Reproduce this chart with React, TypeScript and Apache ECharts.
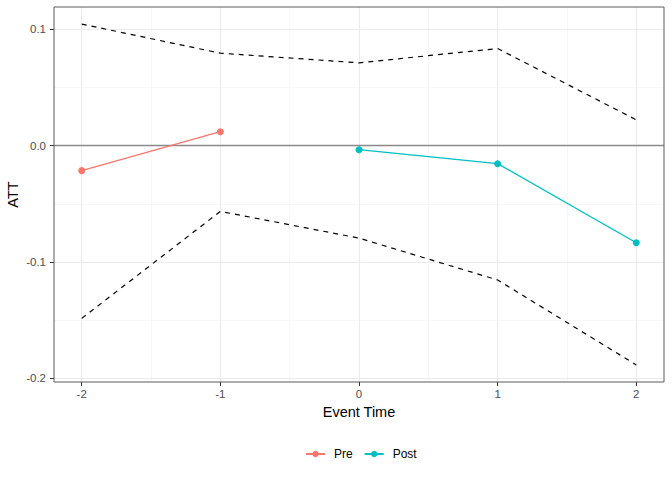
import React, { useEffect, useRef } from "react";
import * as echarts from "echarts";

const eventTime = [-2, -1, 0, 1, 2];
const preTime = [-2, -1];
const preAtt = [-0.0215, 0.012];
const postTime = [0, 1, 2];
const postAtt = [-0.0035, -0.0155, -0.0835];
const upperBand = [0.1045, 0.0795, 0.0712, 0.0835, 0.0222];
const lowerBand = [-0.1485, -0.0565, -0.0795, -0.1155, -0.1885];

const xTicks = [-2, -1, 0, 1, 2];
const xMinor = [-1.5, -0.5, 0.5, 1.5];
const yTicks = [-0.2, -0.1, 0, 0.1];
const yMinor = [-0.15, -0.05, 0.05];
const xRange = [-2.2, 2.2];
const yRange = [-0.2032, 0.1192];

const FONT = "Liberation Sans, Arial, sans-serif";

export default function App() {
  const ref = useRef<HTMLDivElement>(null);
  useEffect(() => {
    if (!ref.current) return;
    const chart = echarts.init(ref.current, null, { renderer: "svg" });
    const zip = (xs: number[], ys: number[]) => xs.map((x, i) => [x, ys[i]]);
    const gridLine = (vals: number[], axis: "xAxis" | "yAxis", color: string, width: number) =>
      vals.map((v) => ({ [axis]: v, lineStyle: { color, width, type: "solid" } }));
    chart.setOption({
      animation: false,
      textStyle: { fontFamily: FONT },
      grid: {
        left: 54,
        top: 7,
        right: 8,
        bottom: 98,
        containLabel: false,
        outerBoundsMode: "none",
        show: true,
        borderColor: "#5a5a5a",
        borderWidth: 1,
        backgroundColor: "transparent",
        z: 10,
      },
      legend: {
        data: ["Pre", "Post"],
        bottom: 15,
        left: 300,
        itemWidth: 19,
        itemHeight: 8,
        itemGap: 11,
        textStyle: { fontSize: 12, color: "#000", fontFamily: FONT, padding: [0, 0, 0, 4] },
      },
      xAxis: {
        type: "value",
        min: xRange[0],
        max: xRange[1],
        name: "Event Time",
        nameLocation: "middle",
        nameGap: 22,
        nameMoveOverlap: false,
        nameTextStyle: { fontSize: 14.5, color: "#000", fontFamily: FONT },
        axisLine: { show: false, onZero: false },
        splitLine: { show: false },
        axisTick: { show: true, customValues: xTicks, length: 4, lineStyle: { color: "#333" } },
        axisLabel: {
          customValues: xTicks,
          formatter: (v: number) => String(v),
          color: "#4D4D4D",
          fontSize: 11.5,
          margin: 6,
          fontFamily: FONT,
        },
      },
      yAxis: {
        type: "value",
        min: yRange[0],
        max: yRange[1],
        name: "ATT",
        nameLocation: "middle",
        nameRotate: 90,
        nameGap: 34,
        nameMoveOverlap: false,
        nameTextStyle: { fontSize: 14.5, color: "#000", fontFamily: FONT },
        axisLine: { show: false, onZero: false },
        splitLine: { show: false },
        axisTick: { show: true, customValues: yTicks, length: 4, lineStyle: { color: "#333" } },
        axisLabel: {
          customValues: yTicks,
          formatter: (v: number) => v.toFixed(1),
          color: "#4D4D4D",
          fontSize: 11.5,
          margin: 8,
          fontFamily: FONT,
        },
      },
      series: [
        {
          name: "gridlines",
          type: "line",
          data: [[xRange[0], 0]],
          showSymbol: false,
          lineStyle: { opacity: 0 },
          silent: true,
          z: 0,
          markLine: {
            silent: true,
            symbol: ["none", "none"],
            label: { show: false },
            emphasis: { disabled: true },
            z: 0,
            data: [
              ...gridLine(xMinor, "xAxis", "#F4F4F4", 0.7),
              ...gridLine(yMinor, "yAxis", "#F4F4F4", 0.7),
              ...gridLine(xTicks, "xAxis", "#EBEBEB", 1.1),
              ...gridLine(yTicks, "yAxis", "#EBEBEB", 1.1),
            ],
          },
        },
        {
          name: "zero",
          type: "line",
          data: [[xRange[0], 0]],
          showSymbol: false,
          lineStyle: { opacity: 0 },
          silent: true,
          z: 1,
          markLine: {
            silent: true,
            symbol: ["none", "none"],
            label: { show: false },
            emphasis: { disabled: true },
            z: 1,
            data: [{ yAxis: 0, lineStyle: { color: "#8a8a8a", width: 1.4, type: "solid" } }],
          },
        },
        {
          name: "upper",
          type: "line",
          data: zip(eventTime, upperBand),
          showSymbol: false,
          silent: true,
          z: 3,
          lineStyle: { color: "#000", width: 1.2, type: [5, 5] },
        },
        {
          name: "lower",
          type: "line",
          data: zip(eventTime, lowerBand),
          showSymbol: false,
          silent: true,
          z: 3,
          lineStyle: { color: "#000", width: 1.2, type: [5, 5] },
        },
        {
          name: "Pre",
          type: "line",
          data: zip(preTime, preAtt),
          symbol: "circle",
          symbolSize: 7,
          z: 4,
          itemStyle: { color: "#F8766D" },
          lineStyle: { color: "#F8766D", width: 1.3 },
        },
        {
          name: "Post",
          type: "line",
          data: zip(postTime, postAtt),
          symbol: "circle",
          symbolSize: 7,
          z: 4,
          itemStyle: { color: "#00BFC4" },
          lineStyle: { color: "#00BFC4", width: 1.3 },
        },
      ],
    });
    return () => chart.dispose();
  }, []);
  return <div ref={ref} style={{ width: 672, height: 480, position: "absolute", left: 0, top: 0 }} />;
}
